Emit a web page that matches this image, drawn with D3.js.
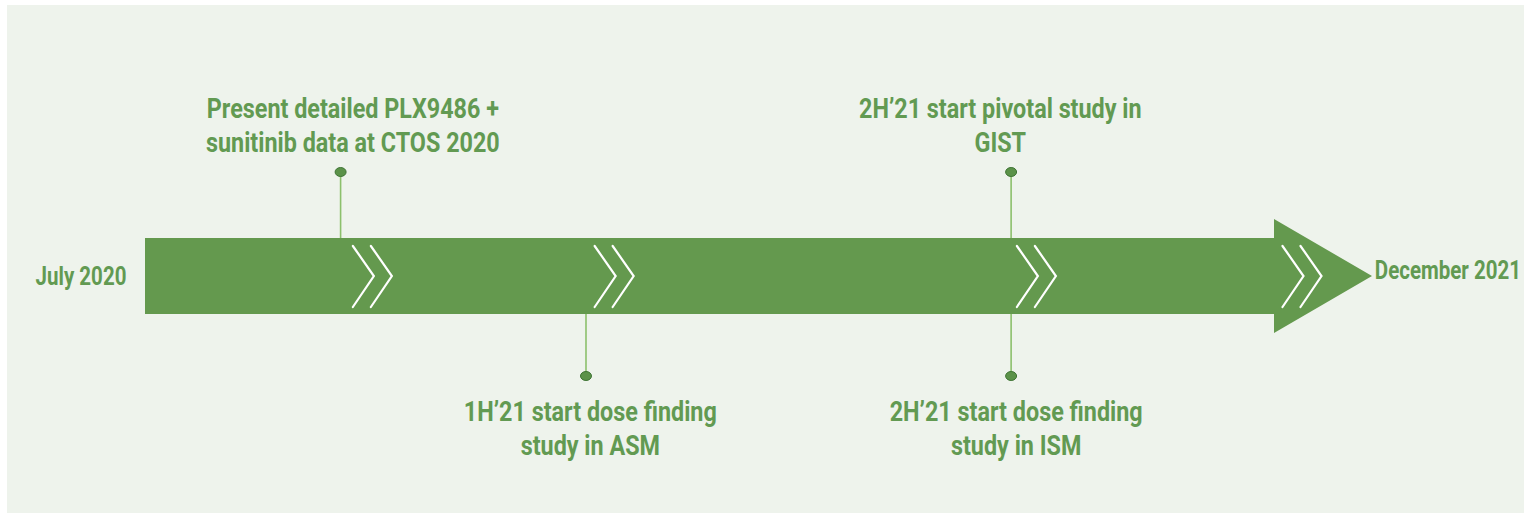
<!DOCTYPE html>
<html>
<head>
<meta charset="utf-8">
<script src="https://cdn.jsdelivr.net/npm/d3@7"></script>
<style>
    html, body { margin: 0; padding: 0; background: #ffffff; }
    svg { display: block; }
    text { font-family: "Roboto", "DejaVu Sans Condensed", sans-serif; font-weight: bold; }
</style>
</head>
<body>
<svg class="timeline" width="1533" height="513"></svg>
<script>
// months after July 2020
const startLabel = 'July 2020';
const endLabel = 'December 2021';
const monthSpan = [0, 17];

const milestoneMonths = [2.71, 6.11, 12.0, 12.0];
const labelMonths = [2.88, 6.17, 11.85, 12.07];
const milestoneSide = ['top', 'bottom', 'top', 'bottom'];
const milestoneLabels = [
    ['Present detailed PLX9486 +', 'sunitinib data at CTOS 2020'],
    ['1H\u201921 start dose finding', 'study in ASM'],
    ['2H\u201921 start pivotal study in', 'GIST'],
    ['2H\u201921 start dose finding', 'study in ISM']
];
const chevronMonths = [2.88, 6.23, 12.08, 15.76];

const timeline = () => {
    const svg = d3.select('.timeline');
    const green = '#64994e';
    const textColor = '#629a52';
    const squeeze = 0.82;

    const bar = { top: 238, bottom: 314, headTop: 219, headBottom: 333, headLen: 98 };
    const midY = (bar.top + bar.bottom) / 2;

    const x = d3.scaleLinear().domain(monthSpan).range([145, 1372]);

    // panel
    svg.append('rect')
        .attr('x', 7).attr('y', 5)
        .attr('width', 1517).attr('height', 508)
        .attr('fill', '#eef3ec');

    const g = svg.append('g');

    // arrow body + head
    const tipX = x(monthSpan[1]);
    const headX = tipX - bar.headLen;
    const arrow = d3.path();
    arrow.moveTo(x(monthSpan[0]), bar.top);
    arrow.lineTo(headX, bar.top);
    arrow.lineTo(headX, bar.headTop);
    arrow.lineTo(tipX, midY);
    arrow.lineTo(headX, bar.headBottom);
    arrow.lineTo(headX, bar.bottom);
    arrow.lineTo(x(monthSpan[0]), bar.bottom);
    arrow.closePath();
    g.append('path').attr('d', arrow.toString()).attr('fill', green);

    // chevrons
    const chev = g.append('g').attr('class', 'chevrons');
    chevronMonths.forEach((m) => {
        const cx = x(m);
        [0, 18].forEach((off) => {
            chev.append('path')
                .attr('d', d3.line()([[cx + off, 246], [cx + off + 21, 276], [cx + off, 307]]))
                .attr('fill', 'none')
                .attr('stroke', '#ffffff')
                .attr('stroke-width', 2.2)
                .attr('stroke-linecap', 'round');
        });
    });

    // squeezed text helper (the source font is a condensed face)
    const label = (parent, tx, ty, str, size, anchor) => parent.append('text')
        .attr('transform', `translate(${tx},${ty}) scale(${squeeze},1)`)
        .attr('text-anchor', anchor)
        .attr('fill', textColor)
        .attr('font-size', size)
        .text(str);

    // milestones
    const ms = milestoneMonths.map((m, i) => ({
        m, lm: labelMonths[i], side: milestoneSide[i], lines: milestoneLabels[i]
    }));

    const groups = g.selectAll('.milestone')
        .data(ms)
        .enter()
        .append('g')
        .attr('class', 'milestone');

    groups.append('line')
        .attr('x1', (d) => x(d.m))
        .attr('x2', (d) => x(d.m))
        .attr('y1', (d) => (d.side === 'top' ? bar.top : bar.bottom))
        .attr('y2', (d) => (d.side === 'top' ? bar.top - 66 : bar.bottom + 62))
        .attr('stroke', '#8cc06c')
        .attr('stroke-width', 1.6);

    groups.append('ellipse')
        .attr('cx', (d) => x(d.m))
        .attr('cy', (d) => (d.side === 'top' ? bar.top - 66 : bar.bottom + 62))
        .attr('rx', 5.5)
        .attr('ry', 4.5)
        .attr('fill', '#5b9249')
        .attr('stroke', '#3f7535')
        .attr('stroke-width', 1);

    groups.each(function (d) {
        const base = d.side === 'top' ? 118 : 421;
        d.lines.forEach((t, j) => label(d3.select(this), x(d.lm), base + j * 34, t, 28.5, 'middle'));
    });

    // end labels
    label(g, 81, midY + 9, startLabel, 25, 'middle');
    label(g, 1521, midY + 3, endLabel, 25, 'end');
};

timeline();
</script>
</body>
</html>
